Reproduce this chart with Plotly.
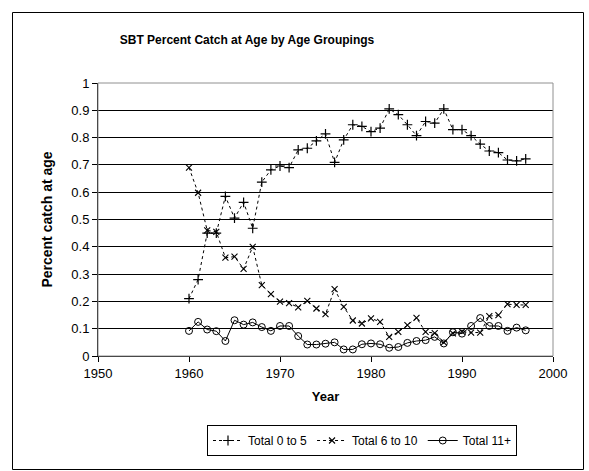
import plotly.graph_objects as go

years = list(range(1960, 1998))

total_0_5 = [0.21, 0.28, 0.45, 0.45, 0.585, 0.505, 0.563, 0.468, 0.637, 0.682,
             0.696, 0.69, 0.755, 0.761, 0.788, 0.814, 0.709, 0.792, 0.847, 0.841,
             0.822, 0.835, 0.905, 0.884, 0.847, 0.807, 0.859, 0.853, 0.905, 0.829,
             0.829, 0.807, 0.776, 0.751, 0.745, 0.718, 0.715, 0.722]

total_6_10 = [0.69, 0.598, 0.46, 0.455, 0.36, 0.364, 0.319, 0.40, 0.26, 0.227,
              0.199, 0.194, 0.178, 0.202, 0.174, 0.153, 0.245, 0.18, 0.13, 0.119,
              0.138, 0.125, 0.07, 0.088, 0.113, 0.14, 0.088, 0.084, 0.05, 0.083,
              0.089, 0.086, 0.086, 0.146, 0.15, 0.19, 0.187, 0.187]

total_11p = [0.092, 0.125, 0.097, 0.091, 0.055, 0.131, 0.115, 0.123, 0.106, 0.092,
             0.11, 0.11, 0.073, 0.042, 0.042, 0.045, 0.05, 0.024, 0.024, 0.043,
             0.046, 0.043, 0.03, 0.033, 0.048, 0.055, 0.058, 0.07, 0.046, 0.087,
             0.082, 0.11, 0.139, 0.11, 0.11, 0.092, 0.104, 0.094]

FONT = "Arial, Liberation Sans, sans-serif"

fig = go.Figure()
fig.add_trace(go.Scatter(
    x=years, y=total_0_5, name="Total 0 to 5", mode="lines+markers",
    line=dict(color="black", width=1, dash="3px,3px"),
    marker=dict(symbol="cross-thin-open", size=7, color="black",
                line=dict(color="black", width=1.2))))
fig.add_trace(go.Scatter(
    x=years, y=total_6_10, name="Total 6 to 10", mode="lines+markers",
    line=dict(color="black", width=1, dash="3px,3px"),
    marker=dict(symbol="x-thin-open", size=6, color="black",
                line=dict(color="black", width=1.1))))
fig.add_trace(go.Scatter(
    x=years, y=total_11p, name="Total 11+", mode="lines+markers",
    line=dict(color="black", width=1),
    marker=dict(symbol="circle-open", size=7, color="black",
                line=dict(color="black", width=1))))

W, H = 589, 471
L, R, T, B = 98, 36, 83, 115
pw, ph = W - L - R, H - T - B

def px_x(p):
    return (p - L) / pw

def px_y(p):
    return (H - B - p) / ph

bx0, bx1, by0, by1 = px_x(12.5), px_x(583.5), px_y(469.5), px_y(12.5)
border = dict(color="black", width=1)

fig.update_layout(
    width=W, height=H,
    margin=dict(l=L, r=R, t=T, b=B),
    paper_bgcolor="white", plot_bgcolor="white",
    font=dict(family=FONT, size=12, color="black"),
    title=dict(text="<b>SBT Percent Catch at Age by Age Groupings</b>",
               font=dict(family=FONT, size=12, color="black"),
               x=247 / W, xanchor="center", xref="container",
               y=1 - 40 / H, yanchor="middle", yref="container"),
    xaxis=dict(range=[1950, 2000], dtick=10, tick0=1950,
               showgrid=False, zeroline=False,
               showline=True, linecolor="black", linewidth=1,
               ticks="outside", ticklen=5, tickcolor="black",
               tickfont=dict(family=FONT, size=13, color="black"),
               title=dict(text="<b>Year</b>", font=dict(family=FONT, size=13),
                          standoff=12)),
    yaxis=dict(range=[0, 1], dtick=0.1, tick0=0,
               showgrid=True, gridcolor="black", gridwidth=1,
               zeroline=False,
               showline=True, linecolor="black", linewidth=1,
               ticks="outside", ticklen=5, tickcolor="black",
               tickfont=dict(family=FONT, size=13, color="black"),
               title=dict(text="<b>Percent catch at age</b>",
                          font=dict(family=FONT, size=14), standoff=15)),
    legend=dict(orientation="h", x=px_x(362), xanchor="center",
                y=px_y(425), yanchor="top",
                bordercolor="black", borderwidth=1, bgcolor="white",
                font=dict(family=FONT, size=12, color="black"),
                itemwidth=30, tracegroupgap=0),
    showlegend=True,
    shapes=[
        dict(type="rect", xref="paper", yref="paper", x0=0, x1=1, y0=0, y1=1,
             line=dict(color="#909090", width=1), layer="above"),
        dict(type="line", xref="paper", yref="paper", x0=bx0, x1=bx0, y0=by0, y1=by1, line=border),
        dict(type="line", xref="paper", yref="paper", x0=bx1, x1=bx1, y0=by0, y1=by1, line=border),
        dict(type="line", xref="paper", yref="paper", x0=bx0, x1=bx1, y0=by1, y1=by1, line=border),
        dict(type="line", xref="paper", yref="paper", x0=bx0, x1=bx1, y0=by0, y1=by0, line=border),
    ],
)

fig.write_html("out.html", config={"displayModeBar": False},
               post_script="document.body.style.margin='0';document.body.style.overflow='hidden';")
